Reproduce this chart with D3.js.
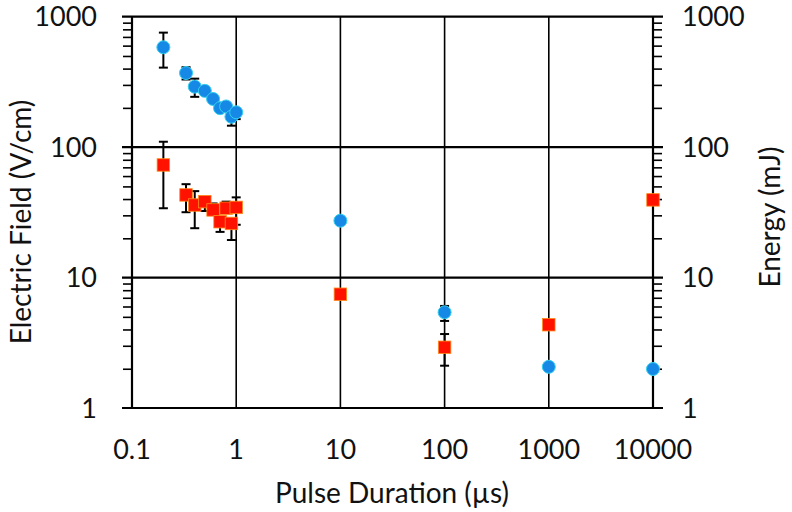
<!DOCTYPE html>
<html><head><meta charset="utf-8">
<script src="https://cdn.jsdelivr.net/npm/d3@7"></script>
<style>body{margin:0;background:#fff}svg{display:block}text{font-family:Lato,"Open Sans",sans-serif;fill:#111}</style>
</head><body><svg id="c" width="792" height="512"></svg>
<script>
// Pulse durations (µs)
const durations = [0.2, 0.33, 0.4, 0.5, 0.6, 0.7, 0.8, 0.9, 1.0, 10, 100, 1000, 10000];
// Electric field (V/cm), left axis
const fieldValues = [583, 370, 291, 270, 234, 199, 205, 171, 185, 27.3, 5.42, 2.07, 1.99];
const fieldLow    = [407, 330, 243, null, null, null, null, 146, 164, null, 4.65, null, null];
const fieldHigh   = [755, 410, 335, null, null, null, null, null, null, null, 6.06, null, null];
// Energy (mJ), right axis
const energyValues = [73, 43, 36, 38.2, 33, 26.8, 34, 26, 34.5, 7.45, 2.92, 4.35, 39.4];
const energyLow    = [34, 31.7, 23.9, 32.4, null, 22.4, null, 19.4, 25.4, null, 2.11, null, null];
const energyHigh   = [110, 52, 46, 41.2, 37, null, 38.2, null, 41.2, null, 3.69, null, null];
// Tick labels
const xTicks = [0.1, 1, 10, 100, 1000, 10000];
const yTicks = [1, 10, 100, 1000];
const xTitle = "Pulse Duration (µs)";
const yLeftTitle = "Electric Field (V/cm)";
const yRightTitle = "Energy (mJ)";

const svg = d3.select("#c");
const L = 132, R = 653, T = 16.7, B = 408;
const x = d3.scaleLog().domain([0.1, 10000]).range([L, R]);
const y = d3.scaleLog().domain([1, 1000]).range([B, T]);
const yR = d3.scaleLog().domain([1, 1000]).range([B, T]);

// vertical gridlines
svg.append("g").selectAll("line").data(xTicks.slice(1, -1)).join("line")
  .attr("x1", d => x(d)).attr("x2", d => x(d)).attr("y1", T).attr("y2", B)
  .attr("stroke", "#000").attr("stroke-width", 1.6);

// left/right axes with minor ticks
const minorVals = [];
for (let dec = 1; dec < 1000; dec *= 10) for (let k = 2; k <= 9; k++) minorVals.push(dec * k);
const gl = svg.append("g").attr("transform", `translate(${L},0)`)
  .call(d3.axisLeft(y).tickValues(minorVals).tickSize(9).tickFormat(""));
gl.selectAll("path").remove();
gl.selectAll("line").attr("stroke", "#000").attr("stroke-width", 1.6);
const gr = svg.append("g").attr("transform", `translate(${R},0)`)
  .call(d3.axisRight(yR).tickValues(minorVals).tickSize(9).tickFormat(""));
gr.selectAll("path").remove();
gr.selectAll("line").attr("stroke", "#000").attr("stroke-width", 1.6);

// horizontal gridlines (extend as major ticks)
svg.append("g").selectAll("line").data(yTicks).join("line")
  .attr("x1", L - 10).attr("x2", R + 10).attr("y1", d => y(d)).attr("y2", d => y(d))
  .attr("stroke", "#000").attr("stroke-width", 2.2);
[L, R].forEach(px => svg.append("line").attr("x1", px).attr("x2", px).attr("y1", T).attr("y2", B)
  .attr("stroke", "#000").attr("stroke-width", 2.2));

// tick labels
const fs = 27;
svg.append("g").selectAll("text").data(yTicks).join("text")
  .attr("x", 97).attr("y", d => y(d)).attr("dy", "0.36em").attr("text-anchor", "end")
  .attr("font-size", fs).text(d => d);
svg.append("g").selectAll("text").data(yTicks).join("text")
  .attr("x", 682).attr("y", d => yR(d)).attr("dy", "0.36em").attr("text-anchor", "start")
  .attr("font-size", fs).text(d => d);
svg.append("g").selectAll("text").data(xTicks).join("text")
  .attr("x", d => x(d)).attr("y", 449).attr("dy", "0.36em").attr("text-anchor", "middle")
  .attr("font-size", fs).text(d => d);

// titles
svg.append("text").attr("x", 392).attr("y", 493).attr("dy", "0.36em")
  .attr("text-anchor", "middle").attr("font-size", 28).text(xTitle);
svg.append("text").attr("transform", "translate(21,222) rotate(-90)").attr("dy", "0.36em")
  .attr("text-anchor", "middle").attr("font-size", 28).text(yLeftTitle);
svg.append("text").attr("transform", "translate(770,217) rotate(-90)").attr("dy", "0.36em")
  .attr("text-anchor", "middle").attr("font-size", 28).text(yRightTitle);

// error bars
function errBars(vals, lo, hi, sc) {
  const g = svg.append("g").attr("stroke", "#000").attr("stroke-width", 2);
  durations.forEach((t, i) => {
    const cx = x(t);
    [lo[i], hi[i]].forEach(e => {
      if (e == null) return;
      g.append("line").attr("x1", cx).attr("x2", cx).attr("y1", sc(vals[i])).attr("y2", sc(e));
      g.append("line").attr("x1", cx - 4.5).attr("x2", cx + 4.5).attr("y1", sc(e)).attr("y2", sc(e));
    });
  });
}
errBars(energyValues, energyLow, energyHigh, yR);
errBars(fieldValues, fieldLow, fieldHigh, y);

// energy squares
const s = 12.5;
svg.append("g").selectAll("rect").data(durations).join("rect")
  .attr("x", d => x(d) - s / 2).attr("y", (d, i) => yR(energyValues[i]) - s / 2)
  .attr("width", s).attr("height", s)
  .attr("fill", "#ff1200").attr("stroke", "#ff8c1a").attr("stroke-width", 0.8);
// field circles
svg.append("g").selectAll("circle").data(durations).join("circle")
  .attr("cx", d => x(d)).attr("cy", (d, i) => y(fieldValues[i])).attr("r", 6.5)
  .attr("fill", "#1688e6").attr("stroke", "#33d0ee").attr("stroke-width", 1);
</script></body></html>
